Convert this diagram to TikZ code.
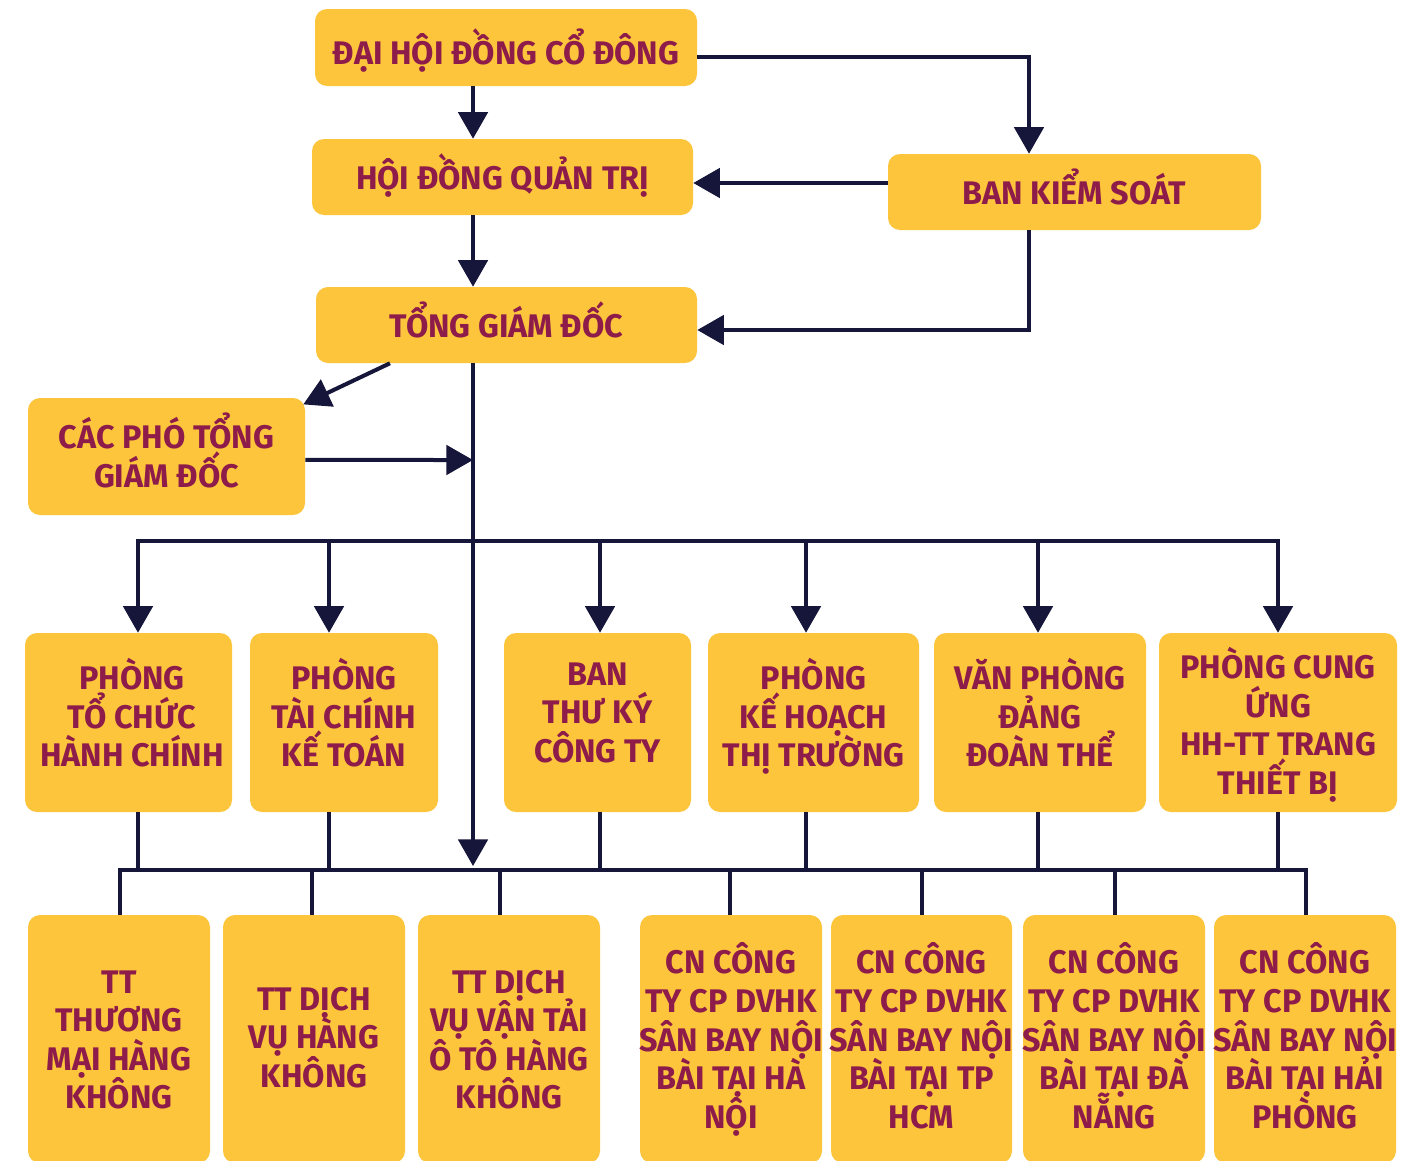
\documentclass[tikz,border=0pt]{standalone}
\usepackage{fontspec}
\setmainfont{Fira Sans}[FakeStretch=0.99]
\usetikzlibrary{arrows.meta,calc}
\definecolor{boxc}{HTML}{FCC53C}
\definecolor{txtc}{HTML}{8E1C4A}
\definecolor{linec}{HTML}{15163A}
\tikzset{
  box/.style={fill=boxc, rounded corners=9pt, draw=none, inner sep=0pt},
  lbl/.style={text=txtc, font=\bfseries\fontsize{24.5}{28.9}\selectfont, align=center, inner sep=0pt,
    execute at begin node={\lineskiplimit=-100pt\rule{0pt}{28pt}},
    execute at end node={\rule[-9pt]{0pt}{9pt}}},
  conn/.style={draw=linec, line width=3pt},
  arr/.style={conn, -{Triangle[length=20pt,width=22pt]}},
}
\begin{document}
\begin{tikzpicture}[x=0.75pt,y=-0.75pt]
\clip (0,0) rectangle (1401,1160);
\fill[white] (0,0) rectangle (1401,1160);
% top boxes
\node[box, minimum width=286.5pt, minimum height=57.75pt] (dh) at (506,47.5) {};
\node[box, minimum width=285.75pt, minimum height=57pt] (hd) at (502.5,177) {};
\node[box, minimum width=279.75pt, minimum height=57pt] (bks) at (1074.5,192) {};
\node[box, minimum width=285.75pt, minimum height=57pt] (tgd) at (506.5,325) {};
\node[box, minimum width=207.75pt, minimum height=87.75pt] (pho) at (166.5,456.5) {};
\node[lbl] (tdh) at (506,52) {ĐẠI HỘI ĐỒNG CỔ ĐÔNG};
\node[lbl] (thd) at (502.5,176.5) {HỘI ĐỒNG QUẢN TRỊ};
\node[lbl] (tbks) at (1074.5,191.5) {BAN KIỂM SOÁT};
\node[lbl] (ttgd) at (506.5,324.5) {TỔNG GIÁM ĐỐC};
\node[lbl] (tpho) at (166.5,456) {CÁC PHÓ TỔNG\\GIÁM ĐỐC};
% row 2
\node[box, minimum width=155.25pt, minimum height=134.25pt] (r1) at (128.5,722.5) {};
\node[box, minimum width=141pt, minimum height=134.25pt] (r2) at (344,722.5) {};
\node[box, minimum width=140.25pt, minimum height=134.25pt] (r3) at (597.5,722.5) {};
\node[box, minimum width=158.25pt, minimum height=134.25pt] (r4) at (813.5,722.5) {};
\node[box, minimum width=159pt, minimum height=134.25pt] (r5) at (1040,722.5) {};
\node[box, minimum width=178.5pt, minimum height=134.25pt] (r6) at (1278,722.5) {};
\node[lbl] (tr1) at (132,718.5) {PHÒNG\\TỔ CHỨC\\HÀNH CHÍNH};
\node[lbl] (tr2) at (344,718.5) {PHÒNG\\TÀI CHÍNH\\KẾ TOÁN};
\node[lbl] (tr3) at (597.5,718.5) {BAN\\THƯ KÝ\\CÔNG TY};
\node[lbl] (tr4) at (813.5,718.5) {PHÒNG\\KẾ HOẠCH\\THỊ TRƯỜNG};
\node[lbl] (tr5) at (1040,718.5) {VĂN PHÒNG\\ĐẢNG\\ĐOÀN THỂ};
\node[lbl] (tr6) at (1278,727) {PHÒNG CUNG\\ỨNG\\HH-TT TRANG\\THIẾT BỊ};
% row 3
\node[box, minimum width=136.5pt, minimum height=186pt] (s1) at (119,1039) {};
\node[box, minimum width=136.5pt, minimum height=186pt] (s2) at (314,1039) {};
\node[box, minimum width=136.5pt, minimum height=186pt] (s3) at (509,1039) {};
\node[box, minimum width=136.5pt, minimum height=186pt] (s4) at (731,1039) {};
\node[box, minimum width=135.75pt, minimum height=186pt] (s5) at (921.5,1039) {};
\node[box, minimum width=136.5pt, minimum height=186pt] (s6) at (1114,1039) {};
\node[box, minimum width=136.5pt, minimum height=186pt] (s7) at (1305,1039) {};
\node[lbl] (ts1) at (119,1045.5) {TT\\THƯƠNG\\MẠI HÀNG\\KHÔNG};
\node[lbl] (ts2) at (314,1043) {TT DỊCH\\VỤ HÀNG\\KHÔNG};
\node[lbl] (ts3) at (509,1045.5) {TT DỊCH\\VỤ VẬN TẢI\\Ô TÔ HÀNG\\KHÔNG};
\node[lbl] (ts4) at (731,1041.5) {CN CÔNG\\TY CP DVHK\\SÂN BAY NỘI\\BÀI TẠI HÀ\\NỘI};
\node[lbl] (ts5) at (921.5,1041.5) {CN CÔNG\\TY CP DVHK\\SÂN BAY NỘI\\BÀI TẠI TP\\HCM};
\node[lbl] (ts6) at (1114,1041.5) {CN CÔNG\\TY CP DVHK\\SÂN BAY NỘI\\BÀI TẠI ĐÀ\\NẴNG};
\node[lbl] (ts7) at (1305,1041.5) {CN CÔNG\\TY CP DVHK\\SÂN BAY NỘI\\BÀI TẠI HẢI\\PHÒNG};
% coordinates
\coordinate (jx) at (1029,0);
\coordinate (tx) at (473,0);
\coordinate (bus1) at (0,541);
\coordinate (bus2) at (0,870);
\coordinate (trunkend) at (473,866);
\foreach \n/\x in {1/138,2/329,3/600,4/806,5/1038,6/1278} {\coordinate (a\n) at (\x,541);}
\foreach \n/\x in {1/120,2/312,3/500,4/730,5/922,6/1115,7/1306} {\coordinate (c\n) at (\x,870);}
% connectors
\draw[arr] ([yshift=-7.1pt]dh.east) -| (jx |- bks.north);
\draw[arr] (tx |- dh.south) -- (tx |- hd.north);
\draw[arr] ([yshift=6.75pt]bks.west) -- ([yshift=6.75pt]bks.west -| hd.east);
\draw[arr] (tx |- hd.south) -- (tx |- tgd.north);
\draw[arr] (jx |- bks.south) |- ([yshift=-3.75pt]tgd.east);
\draw[arr] ([xshift=-87.4pt]tgd.south) -- ([xshift=-1.5pt,yshift=-5pt]pho.north east);
\draw[arr] (tx |- tgd.south) -- (trunkend);
\draw[arr] ([yshift=-2.6pt]pho.east) -- (tx |- 0,460);
\draw[conn, line cap=rect] (a1) -- (a6);
\foreach \n in {1,...,6} {\draw[arr] (a\n) -- (a\n |- r\n.north);}
\foreach \n in {1,...,6} {\draw[conn] (a\n |- r\n.south) -- (a\n |- bus2);}
\draw[conn, line cap=rect] (c1) -- (c7);
\foreach \n in {1,...,7} {\draw[conn] (c\n) -- (c\n |- s\n.north);}
\end{tikzpicture}
\end{document}
